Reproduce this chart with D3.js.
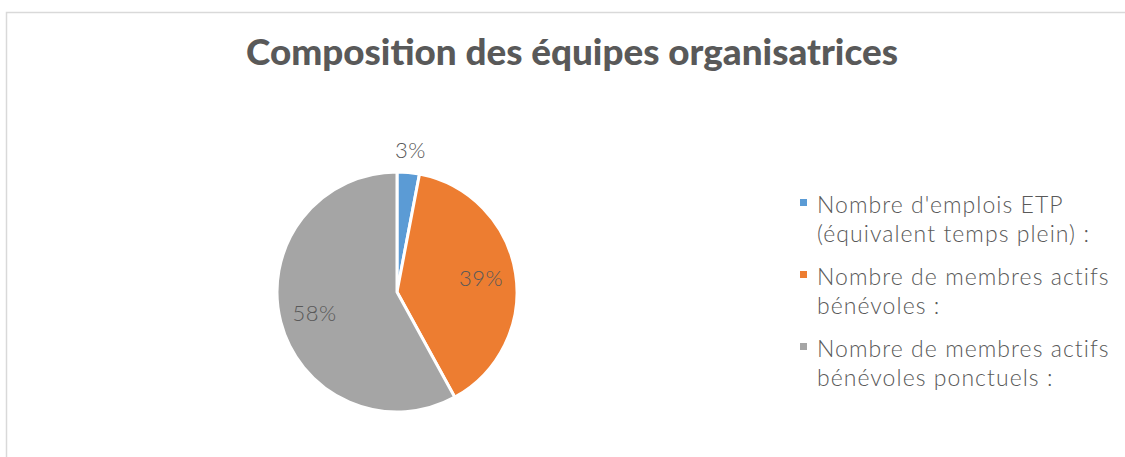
<!DOCTYPE html>
<html>
<head>
<meta charset="utf-8">
<script src="https://cdn.jsdelivr.net/npm/d3@7"></script>
<style>
  html, body { margin: 0; padding: 0; background: #fff; }
  svg { display: block; }
</style>
</head>
<body>
<div id="chart"></div>
<script>
// chart data
const categories = [
  ["Nombre d'emplois ETP", "(équivalent temps plein) :"],
  ["Nombre de membres actifs", "bénévoles :"],
  ["Nombre de membres actifs", "bénévoles ponctuels :"]
];
const shares = [3, 39, 58];
const colors = ["#5B9BD5", "#ED7D31", "#A5A5A5"];
const chartTitle = "Composition des équipes organisatrices";

const width = 1125, height = 457;
const textColor = "#595959";
const lightFont = "Lato, 'Open Sans', sans-serif";

let svg = d3.select("#chart")
    .append("svg")
    .attr("width", width)
    .attr("height", height);

// frame (top + left edges visible)
svg.append("path")
    .attr("d", `M6.5,${height} V12.5 H${width}`)
    .attr("fill", "none")
    .attr("stroke", "#d9d9d9")
    .attr("stroke-width", 1.5);

// title
let title = svg.append("text")
    .attr("x", 572)
    .attr("y", 65)
    .attr("text-anchor", "middle")
    .style("font-family", "Lato, 'Open Sans', sans-serif")
    .style("font-weight", 900)
    .style("font-size", "30px")
    .attr("fill", textColor)
    .text(chartTitle);
// fit title to reference width
let tw = title.node().getComputedTextLength();
title.style("font-size", (30 * 652 / tw).toFixed(2) + "px");

// pie
const radius = 120;
let g = svg.append("g")
    .attr("transform", `translate(397, 292)`);

let pie = d3.pie().sort(null).value(d => d);
let arc = d3.arc().innerRadius(0).outerRadius(radius);
let labelArc = d3.arc().innerRadius(radius * 0.71).outerRadius(radius * 0.71);
let outerArc = d3.arc().innerRadius(radius + 22).outerRadius(radius + 22);

let arcs = pie(shares);

g.selectAll("path.slice")
    .data(arcs)
    .enter()
    .append("path")
    .attr("class", "slice")
    .attr("d", arc)
    .attr("fill", (d, i) => colors[i])
    .attr("stroke", "#fff")
    .attr("stroke-width", 3)
    .attr("stroke-linejoin", "round");

g.selectAll("text.pct")
    .data(arcs)
    .enter()
    .append("text")
    .attr("class", "pct")
    .attr("transform", d => {
        // small slice gets its label outside
        let c = (d.endAngle - d.startAngle) < 0.4 ? outerArc.centroid(d) : labelArc.centroid(d);
        return `translate(${c[0]}, ${c[1]})`;
    })
    .attr("dy", "0.35em")
    .attr("text-anchor", "middle")
    .style("font-family", lightFont)
    .style("font-weight", 300)
    .style("font-size", "22px")
    .style("letter-spacing", "0.5px")
    .attr("fill", textColor)
    .text(d => d.data + "%");

// legend
let legend = svg.append("g")
    .attr("transform", "translate(800, 0)");

let items = legend.selectAll("g.item")
    .data(categories)
    .enter()
    .append("g")
    .attr("class", "item")
    .attr("transform", (d, i) => `translate(0, ${213 + i * 72})`);

items.append("rect")
    .attr("x", 0)
    .attr("y", -14)
    .attr("width", 7)
    .attr("height", 7)
    .attr("fill", (d, i) => colors[i]);

let legendTexts = [];
items.each(function(lines) {
    let t = d3.select(this).append("text")
        .attr("x", 17)
        .attr("y", 0)
        .style("font-family", lightFont)
        .style("font-weight", 300)
        .style("font-size", "23px")
        .attr("fill", textColor);
    lines.forEach((line, j) => {
        t.append("tspan")
            .attr("x", 17)
            .attr("y", j * 29)
            .text(line);
    });
    legendTexts.push(t);
});

// widen legend spacing so the longest line reaches the reference width (~293px)
let probe = legendTexts[1].select("tspan");
let pw = probe.node().getComputedTextLength();
let n = categories[1][0].length;
let ls = Math.max(0, (293 - pw) / n);
legendTexts.forEach(t => t.style("letter-spacing", ls.toFixed(2) + "px"));
</script>
</body>
</html>
